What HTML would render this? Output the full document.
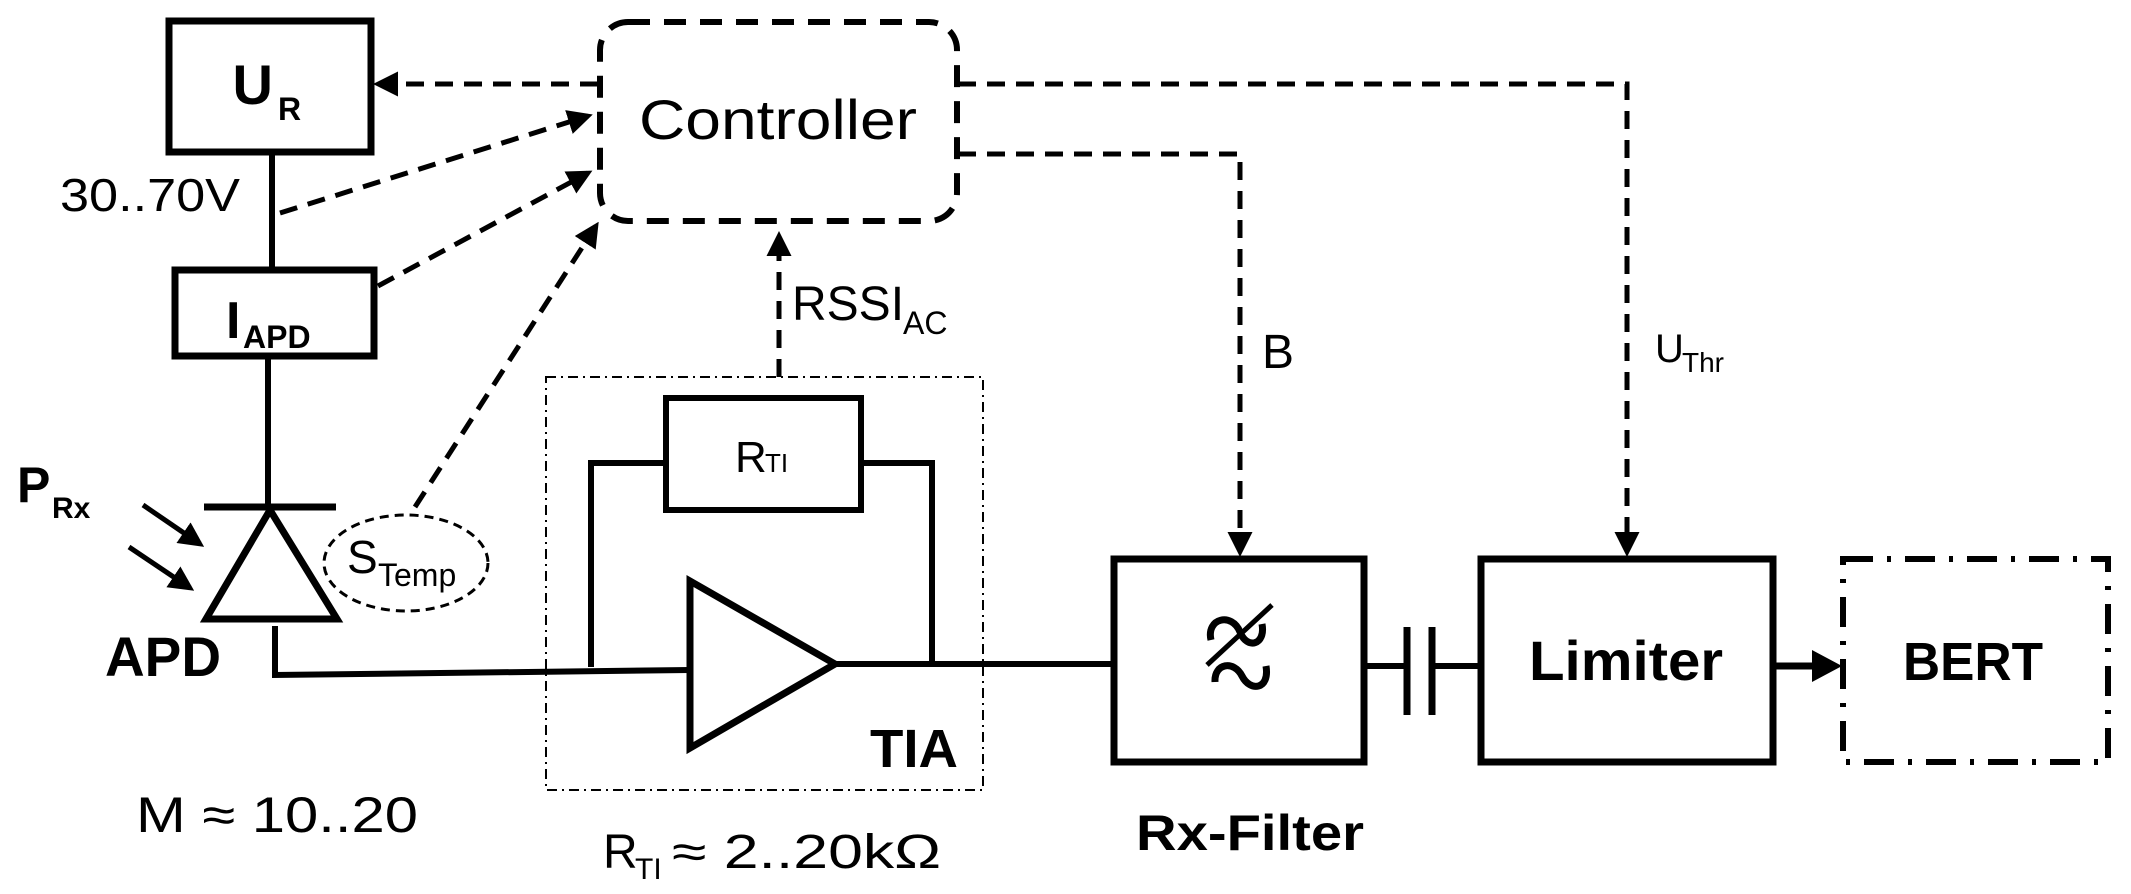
<!DOCTYPE html>
<html><head><meta charset="utf-8"><style>
html,body{margin:0;padding:0;background:#fff;}
svg{display:block;}
text{font-family:"Liberation Sans",sans-serif;fill:#000;}
</style></head><body>
<svg width="2131" height="894" viewBox="0 0 2131 894" xmlns="http://www.w3.org/2000/svg">
<defs>
<marker id="ah" markerWidth="5" markerHeight="5" refX="4" refY="2.5" orient="auto" markerUnits="strokeWidth">
<path d="M0,0 L5,2.5 L0,5 Z" fill="#000"/>
</marker>
</defs>
<g fill="none" stroke="#000">
<rect x="169" y="21" width="202" height="131" stroke-width="7"/>
<rect x="175" y="270" width="199" height="86" stroke-width="7"/>
<rect x="600" y="22" width="357" height="199" rx="28" stroke-width="6" stroke-dasharray="22,14"/>
<line x1="272" y1="152" x2="272" y2="270" stroke-width="6"/>
<line x1="268" y1="356" x2="268" y2="507" stroke-width="6"/>
<line x1="204" y1="507" x2="336" y2="507" stroke-width="7"/>
<polygon points="270,510 206,619 337,619" stroke-width="7"/>
<polyline points="275,626 275,675 690,670" stroke-width="6"/>
<line x1="143" y1="505" x2="200" y2="544" stroke-width="5" marker-end="url(#ah)"/>
<line x1="129" y1="547" x2="190" y2="588" stroke-width="5" marker-end="url(#ah)"/>
<ellipse cx="406" cy="563" rx="82" ry="48" stroke-width="3" stroke-dasharray="9,6"/>
<line x1="598" y1="84" x2="378" y2="84" stroke-width="5" stroke-dasharray="18,11" marker-end="url(#ah)"/>
<line x1="280" y1="213" x2="588" y2="116" stroke-width="5" stroke-dasharray="18,11" marker-end="url(#ah)"/>
<line x1="378" y1="286" x2="588" y2="173" stroke-width="5" stroke-dasharray="18,11" marker-end="url(#ah)"/>
<line x1="415" y1="507" x2="596" y2="226" stroke-width="5" stroke-dasharray="18,11" marker-end="url(#ah)"/>
<line x1="779" y1="377" x2="779" y2="236" stroke-width="5" stroke-dasharray="18,11" marker-end="url(#ah)"/>
<polyline points="958,84 1627,84 1627,552" stroke-width="5" stroke-dasharray="18,11" marker-end="url(#ah)"/>
<polyline points="958,154 1240,154 1240,552" stroke-width="5" stroke-dasharray="18,11" marker-end="url(#ah)"/>
<rect x="546" y="377" width="437" height="413" stroke-width="2" stroke-dasharray="10,5,2,5"/>
<polyline points="591,667 591,463 664,463" stroke-width="6"/>
<polyline points="861,463 932,463 932,666" stroke-width="6"/>
<rect x="666" y="398" width="195" height="112" stroke-width="6"/>
<polygon points="690,581 690,748 835,664" stroke-width="7"/>
<line x1="835" y1="664" x2="1114" y2="664" stroke-width="6"/>
<rect x="1114" y="559" width="250" height="203" stroke-width="7"/>
<path d="M1211,640 C1206,618 1232,612 1240,632 C1247,650 1266,645 1262,624" stroke-width="7"/>
<path d="M1215,682 C1214,663 1234,660 1242,676 C1250,692 1270,690 1266,666" stroke-width="7"/>
<line x1="1207" y1="665" x2="1272" y2="605" stroke-width="5"/>
<line x1="1364" y1="666" x2="1407" y2="666" stroke-width="6"/>
<line x1="1407" y1="627" x2="1407" y2="715" stroke-width="7"/>
<line x1="1432" y1="627" x2="1432" y2="715" stroke-width="7"/>
<line x1="1432" y1="666" x2="1481" y2="666" stroke-width="6"/>
<rect x="1481" y="559" width="292" height="203" stroke-width="7"/>
<line x1="1773" y1="666" x2="1816" y2="666" stroke-width="7"/>
<polygon points="1812,650 1842,666 1812,682" fill="#000" stroke="none"/>
<rect x="1843" y="559" width="265" height="203" stroke-width="6" stroke-dasharray="30,14,4,14"/>
</g>
<text x="273" y="104" font-size="56" font-weight="bold" text-anchor="end">U</text>
<text x="278" y="120" font-size="32" font-weight="bold">R</text>
<text x="60" y="211" font-size="46" textLength="180" lengthAdjust="spacingAndGlyphs">30..70V</text>
<text x="226" y="338" font-size="52" font-weight="bold">I</text>
<text x="243" y="348" font-size="32" font-weight="bold">APD</text>
<text x="17" y="502" font-size="50" font-weight="bold">P</text>
<text x="52" y="518" font-size="30" font-weight="bold">Rx</text>
<text x="347" y="573" font-size="46">S</text>
<text x="378" y="586" font-size="32">Temp</text>
<text x="105" y="676" font-size="56" font-weight="bold" textLength="116" lengthAdjust="spacingAndGlyphs">APD</text>
<text x="136" y="832" font-size="50" textLength="282" lengthAdjust="spacingAndGlyphs">M ≈ 10..20</text>
<text x="639" y="139" font-size="56" textLength="278" lengthAdjust="spacingAndGlyphs">Controller</text>
<text x="792" y="320" font-size="48">RSSI</text>
<text x="903" y="334" font-size="32">AC</text>
<text x="735" y="472" font-size="44">R</text>
<text x="765" y="472" font-size="26">TI</text>
<text x="870" y="767" font-size="54" font-weight="bold" textLength="88" lengthAdjust="spacingAndGlyphs">TIA</text>
<text x="603" y="868" font-size="48">R</text>
<text x="635" y="879" font-size="30">TI</text>
<text x="672" y="868" font-size="48" textLength="269" lengthAdjust="spacingAndGlyphs">≈ 2..20kΩ</text>
<text x="1262" y="368" font-size="48">B</text>
<text x="1655" y="362" font-size="40">U</text>
<text x="1682" y="372" font-size="28">Thr</text>
<text x="1136" y="850" font-size="50" font-weight="bold" textLength="228" lengthAdjust="spacingAndGlyphs">Rx-Filter</text>
<text x="1529" y="680" font-size="56" font-weight="bold" textLength="194" lengthAdjust="spacingAndGlyphs">Limiter</text>
<text x="1903" y="680" font-size="54" font-weight="bold" textLength="140" lengthAdjust="spacingAndGlyphs">BERT</text>
</svg>
</body></html>
